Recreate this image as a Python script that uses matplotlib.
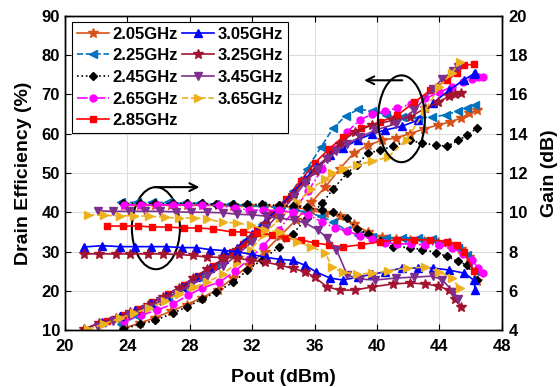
import numpy as np
import matplotlib
matplotlib.use('Agg')
import matplotlib.pyplot as plt
from matplotlib.patches import Ellipse

plt.rcParams['font.family'] = ['Liberation Sans', 'DejaVu Sans']
plt.rcParams['font.weight'] = 'bold'

# ---- data (Pout dBm, drain efficiency %, gain dB) ----
pout_205 = [23.8, 24.8, 25.8, 26.8, 27.8, 28.8, 29.8, 30.8, 31.8, 32.8, 33.8, 34.8, 35.8,
            36.7, 37.6, 38.5, 39.4, 40.3, 41.2, 42.1, 43.0, 43.9, 44.7, 45.4, 45.9, 46.4]
eff_205 = [10.5, 11.8, 13.2, 14.8, 16.5, 18.3, 20.3, 23.3, 26.5, 30, 34, 38, 42.5,
           46.5, 51, 55, 57, 58.3, 58.9, 60, 61.2, 62.2, 63, 64, 65.2, 66]
gain_205 = [10.35, 10.35, 10.35, 10.35, 10.35, 10.35, 10.35, 10.3, 10.3, 10.3, 10.3, 10.25, 10.1,
            9.95, 9.8, 9.4, 9.0, 8.75, 8.65, 8.6, 8.55, 8.5, 8.4, 8.15, 7.7, 6.5]

pout_225 = [23.6, 24.6, 25.6, 26.6, 27.6, 28.6, 29.6, 30.6, 31.6, 32.6, 33.6, 34.6, 35.5,
            36.4, 37.2, 38.0, 38.8, 39.7, 40.6, 41.6, 42.6, 43.5, 44.4, 45.2, 45.8, 46.3]
eff_225 = [11.5, 13.5, 15.8, 18.2, 20.8, 23.5, 26.5, 29.5, 33, 37, 41, 45.5, 51,
           56.5, 61.5, 64.5, 66.2, 65.8, 64.8, 64.2, 64, 64.2, 64.8, 65.8, 66.5, 67.2]
gain_225 = [10.5, 10.5, 10.5, 10.5, 10.45, 10.45, 10.4, 10.4, 10.35, 10.3, 10.25, 10.15, 10.0,
            9.8, 9.5, 9.1, 8.85, 8.75, 8.7, 8.7, 8.7, 8.65, 8.5, 8.2, 7.8, 7.0]

pout_245 = [23.7, 24.8, 25.8, 26.9, 27.8, 28.8, 29.7, 30.8, 31.7, 32.6, 33.7, 34.6, 35.5, 36.5,
            37.2, 38.1, 38.7, 39.4, 40.2, 41.0, 42.1, 42.9, 43.8, 44.5, 45.2, 45.8, 46.4]
eff_245 = [10.25, 11.5, 12.5, 14.3, 15.9, 17.9, 19.7, 22.2, 25.3, 27.8, 31.1, 34.5, 38.5, 42.3,
           46, 50, 52, 55, 55.8, 56.8, 58.3, 57.6, 57.1, 56.8, 58.3, 59.6, 61.4]
gain_245 = [10.45, 10.45, 10.45, 10.45, 10.45, 10.45, 10.4, 10.4, 10.4, 10.4, 10.35, 10.3, 10.25, 10.1,
            10.0, 9.7, 9.15, 8.9, 8.55, 8.25, 8.2, 8.1, 7.95, 7.75, 7.5, 7.3, 6.55]

pout_265 = [23.8, 24.9, 25.9, 26.9, 27.9, 28.8, 29.9, 30.9, 31.8, 32.7, 33.7, 34.6, 35.6, 36.5,
            37.3, 38.1, 38.9, 39.7, 40.5, 41.3, 42.2, 43.1, 44.0, 44.8, 45.5, 46.1, 46.5, 46.8]
eff_265 = [12.3, 13.8, 15.1, 16.6, 18.9, 20.7, 22.2, 25, 28, 31.5, 35.5, 40, 45.5, 51,
           56, 60.5, 63.5, 65, 65.8, 66.5, 67.5, 69, 70.5, 72, 73.2, 74, 74.4, 74.4]
gain_265 = [10.38, 10.38, 10.38, 10.38, 10.38, 10.38, 10.35, 10.2, 10.12, 10.1, 10.1, 10.0, 9.87, 9.5,
            9.2, 9.05, 8.8, 8.65, 8.45, 8.4, 8.38, 8.35, 8.33, 8.2, 7.9, 7.55, 7.16, 6.9]

pout_285 = [22.7, 23.7, 24.7, 25.6, 26.6, 27.6, 28.5, 29.5, 30.7, 31.4, 32.3, 33.3, 34.2,
            35.1, 36.0, 36.9, 37.8, 39.0, 40.2, 41.3, 42.4, 43.4, 44.5, 45.1, 45.6, 46.2]
eff_285 = [12.2, 13.8, 15.5, 17.2, 19.1, 21.6, 23.8, 26.2, 29.8, 32, 35.5, 39.5, 43.5,
           48, 52.5, 56, 59.1, 61.4, 63, 64.7, 68, 71, 73.6, 75.4, 77.4, 77.7]
gain_285 = [9.3, 9.3, 9.3, 9.25, 9.25, 9.2, 9.2, 9.15, 9.0, 9.0, 8.95, 8.85, 8.7,
            8.6, 8.44, 8.34, 8.23, 8.35, 8.5, 8.6, 8.6, 8.6, 8.5, 8.35, 8.0, 7.0]

pout_305 = [21.2, 22.4, 23.5, 24.5, 25.5, 26.5, 27.5, 28.4, 29.3, 30.2, 31.0, 32.0, 32.9, 33.8, 34.6,
            35.4, 36.1, 37.0, 37.8, 38.8, 39.7, 40.5, 41.6, 42.6, 43.6, 44.6, 45.6, 46.2, 46.3]
eff_305 = [10.25, 12, 13.5, 15, 16.8, 18.8, 21, 23.5, 25.8, 28.2, 31, 34.5, 38, 41.5, 45,
           48.5, 51.5, 54.5, 56.3, 58.5, 60, 60.9, 61.9, 63.4, 67.8, 71, 73.8, 75.2, 75.4]
gain_305 = [8.23, 8.3, 8.25, 8.25, 8.25, 8.25, 8.2, 8.2, 8.1, 8.05, 8.0, 7.85, 7.7, 7.6, 7.55,
            7.3, 6.96, 6.65, 6.55, 6.7, 6.85, 6.96, 7.16, 7.16, 7.16, 7.06, 6.9, 6.55, 6.04]

pout_325 = [21.2, 22.2, 23.3, 24.2, 25.3, 26.3, 27.3, 28.2, 29.1, 30.1, 31.0, 31.9, 32.8, 33.8,
            34.6, 35.4, 36.0, 36.8, 37.6, 38.6, 39.7, 41.0, 42.1, 43.1, 43.9, 44.6, 45.0, 45.4]
eff_325 = [10.25, 11.8, 13.2, 14.6, 16.4, 18.4, 20.8, 23.2, 25.5, 27.8, 30.5, 33.5, 37, 41,
           44.5, 48, 50.5, 54, 57.5, 60.5, 62.2, 63.4, 64.2, 66.5, 68, 69.5, 70, 70.3]
gain_325 = [7.88, 7.88, 7.88, 7.88, 7.88, 7.88, 7.85, 7.8, 7.72, 7.7, 7.67, 7.55, 7.47, 7.3,
            7.15, 6.96, 6.7, 6.2, 6.04, 6.04, 6.2, 6.35, 6.4, 6.35, 6.25, 6.04, 5.6, 5.17]

pout_345 = [22.1, 23.1, 24.1, 25.1, 26.1, 27.1, 28.1, 29.1, 30.1, 31.0, 32.0, 32.9, 33.8, 34.7,
            35.4, 36.2, 36.8, 37.4, 38.1, 38.9, 39.9, 41.2, 42.4, 43.6, 44.2, 44.9, 45.2]
eff_345 = [10.8, 12.3, 13.8, 15.5, 17.3, 19.3, 21.5, 23.8, 26.2, 29, 32.5, 36, 40, 44,
           47.5, 51, 53.5, 55.5, 57.5, 59.1, 60.9, 62.5, 66, 71.5, 74, 76, 77]
gain_345 = [10.07, 10.05, 10.05, 10.05, 10.05, 10.02, 10.0, 10.0, 9.97, 9.9, 9.87, 9.8, 9.7, 9.6,
            9.46, 9.1, 8.7, 8.1, 6.8, 6.6, 6.55, 6.65, 6.7, 6.75, 6.55, 5.94, 5.6]

pout_365 = [21.5, 22.5, 23.5, 24.4, 25.4, 26.4, 27.3, 28.3, 29.1, 30.1, 31.0, 31.9, 32.8, 33.8,
            34.9, 35.8, 36.7, 37.1, 37.8, 38.7, 39.7, 40.7, 41.9, 43.1, 44.0, 44.8, 45.3]
eff_365 = [10.2, 11.6, 13.0, 14.3, 15.6, 17.4, 19.2, 21, 22.2, 24.2, 27, 30.5, 34.5, 38.5,
           42.5, 46, 48.5, 50, 51, 52, 53, 54, 58.5, 66, 72, 75.5, 78.2]
gain_365 = [9.87, 9.85, 9.82, 9.82, 9.8, 9.75, 9.7, 9.72, 9.65, 9.5, 9.45, 9.36, 9.1, 9.0,
            8.5, 8.23, 7.93, 7.2, 6.96, 6.85, 6.9, 7.0, 7.16, 7.2, 6.96, 6.65, 6.14]

labels = ['2.05GHz', '2.25GHz', '2.45GHz', '2.65GHz', '2.85GHz',
          '3.05GHz', '3.25GHz', '3.45GHz', '3.65GHz']

series = [
    (pout_205, eff_205, gain_205, '#D95319', '-', '*', 7),
    (pout_225, eff_225, gain_225, '#0072BD', '--', '<', 5.5),
    (pout_245, eff_245, gain_245, 'black', ':', 'D', 4.5),
    (pout_265, eff_265, gain_265, '#FF00FF', '-.', 'o', 5),
    (pout_285, eff_285, gain_285, '#FF0000', '-', 's', 4.5),
    (pout_305, eff_305, gain_305, '#0000FF', '-', '^', 5.5),
    (pout_325, eff_325, gain_325, '#A2142F', '-', '*', 7),
    (pout_345, eff_345, gain_345, '#7E2F8E', '-', 'v', 5.5),
    (pout_365, eff_365, gain_365, '#EDB120', '--', '>', 5.5),
]

fig = plt.figure(figsize=(5.6, 3.87), dpi=100)
ax = fig.add_axes([0.116, 0.147, 0.78, 0.812])
ax2 = ax.twinx()

handles = []
for (p, e, g, c, ls, mk, ms), lab in zip(series, labels):
    h, = ax.plot(p, e, color=c, linestyle=ls, marker=mk, markersize=ms, linewidth=1.2, label=lab)
    ax2.plot(p, g, color=c, linestyle=ls, marker=mk, markersize=ms, linewidth=1.2)
    handles.append(h)

ax.set_xlim(20, 48)
ax.set_ylim(10, 90)
ax2.set_ylim(4, 20)
ax.set_xticks(np.arange(20, 49, 4))
ax.set_yticks(np.arange(10, 91, 10))
ax2.set_yticks(np.arange(4, 21, 2))
ax.grid(True, color='#dddddd', linewidth=0.8)
ax.set_axisbelow(True)

ax.tick_params(direction='in', top=True, labelsize=12, length=4)
ax.tick_params(axis='x', pad=6.5)
ax2.tick_params(direction='in', labelsize=12, length=4, pad=5)
for a in (ax, ax2):
    for lbl in a.get_xticklabels() + a.get_yticklabels():
        lbl.set_fontweight('bold')
    for s in a.spines.values():
        s.set_linewidth(1.0)

ax.set_xlabel('Pout (dBm)', fontsize=14, fontweight='bold', labelpad=11)
ax.set_ylabel('Drain Efficiency (%)', fontsize=14, fontweight='bold', labelpad=7)
ax2.set_ylabel('Gain (dB)', fontsize=14, fontweight='bold', labelpad=10)

# ellipses + arrows pointing to the relevant axis
ax.add_patch(Ellipse((25.83, 35.95), 3.08, 20.9, fill=False, edgecolor='black', linewidth=1.5, zorder=5))
ax.annotate('', xy=(28.8, 46.4), xytext=(25.6, 46.4),
            arrowprops=dict(arrowstyle='->', color='black', lw=1.5, mutation_scale=14))
ax.add_patch(Ellipse((41.57, 63.8), 3.0, 22.1, fill=False, edgecolor='black', linewidth=1.5, zorder=5))
ax.annotate('', xy=(39.0, 73.6), xytext=(41.8, 73.6),
            arrowprops=dict(arrowstyle='->', color='black', lw=1.5, mutation_scale=14))

leg = ax2.legend(handles=handles, loc='upper left', ncol=2, fontsize=12,
                 bbox_to_anchor=(0.016, 0.982), handlelength=1.9, handletextpad=0.2,
                 columnspacing=0.3, labelspacing=0.4, borderpad=0.3, borderaxespad=0.0,
                 fancybox=False, framealpha=1.0, edgecolor='black')
leg.get_frame().set_linewidth(0.8)
for t in leg.get_texts():
    t.set_fontweight('bold')

fig.savefig('out.png', dpi=100)
